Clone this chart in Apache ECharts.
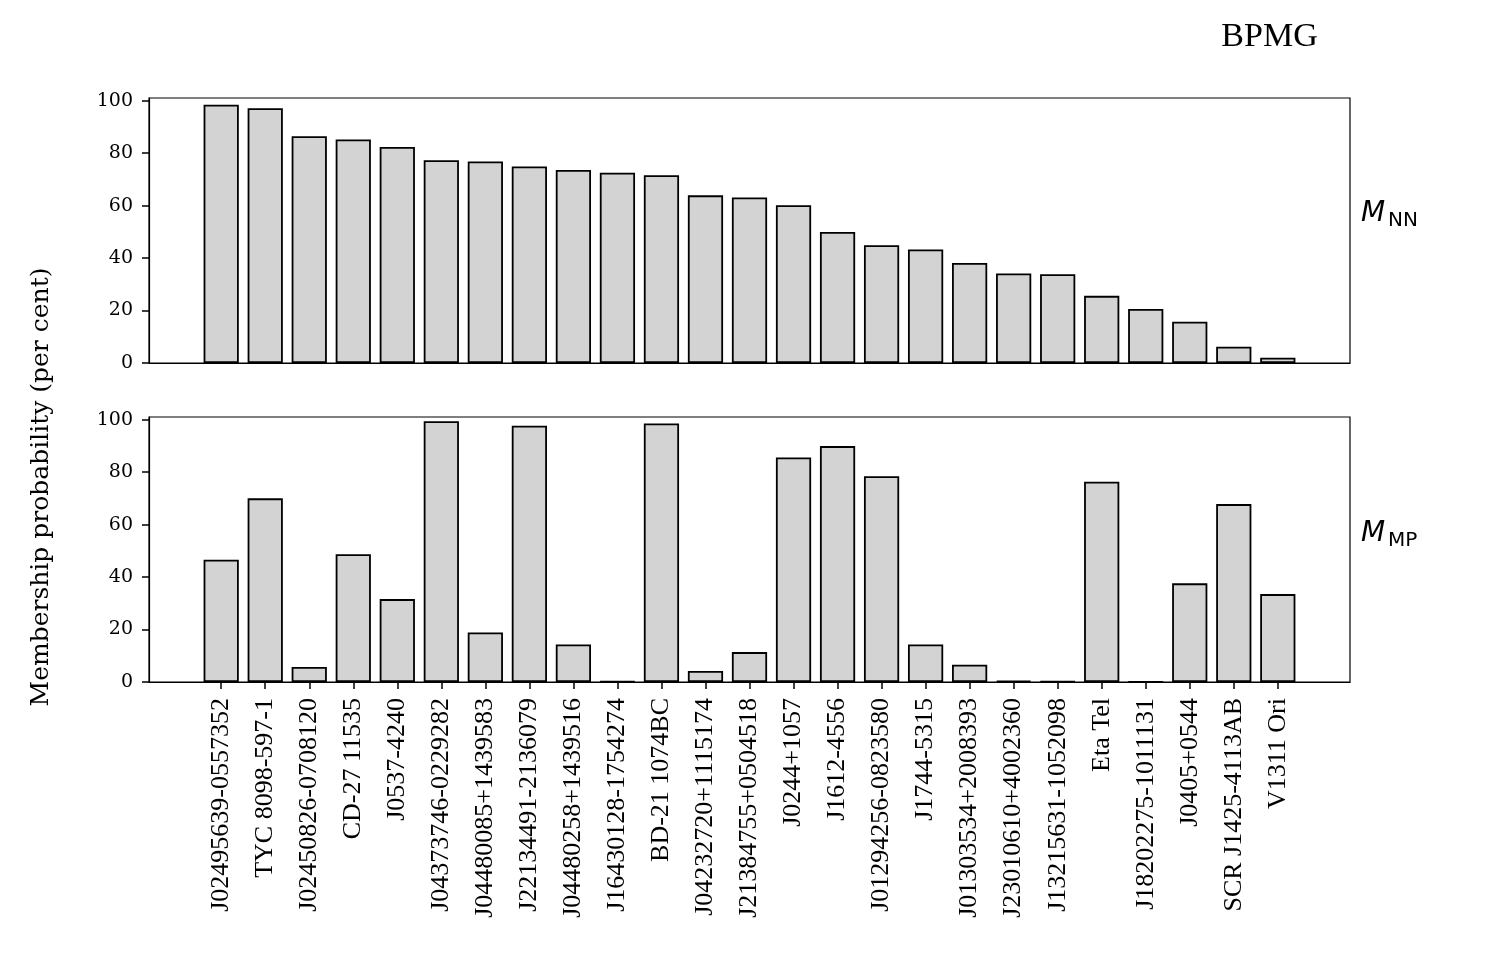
<!DOCTYPE html>
<html>
<head>
<meta charset="utf-8">
<script src="https://cdn.jsdelivr.net/npm/echarts@6/dist/echarts.min.js"></script>
<style>
  html, body { margin: 0; padding: 0; background: #fff; }
  #chart { width: 1500px; height: 975px; }
</style>
</head>
<body>
<div id="chart"></div>
<script>
// star names, in the order of the top panel
var stars = [
  "J02495639-0557352", "TYC 8098-597-1", "J02450826-0708120", "CD-27 11535",
  "J0537-4240", "J04373746-0229282", "J04480085+1439583", "J22134491-2136079",
  "J04480258+1439516", "J16430128-1754274", "BD-21 1074BC", "J04232720+1115174",
  "J21384755+0504518", "J0244+1057", "J1612-4556", "J01294256-0823580",
  "J1744-5315", "J01303534+2008393", "J23010610+4002360", "J13215631-1052098",
  "Eta Tel", "J18202275-1011131", "J0405+0544", "SCR J1425-4113AB", "V1311 Ori"
];

// membership probability (per cent), M_NN
var probNN = [
  98.4, 97.1, 86.4, 85.2, 82.3, 77.3, 76.8, 74.9, 73.6, 72.5,
  71.6, 63.9, 63.1, 60.1, 49.9, 44.9, 43.3, 38.1, 34.1, 33.8,
  25.6, 20.6, 15.7, 6.2, 2.0
];

// membership probability (per cent), M_MP
var probMP = [
  46.6, 70.0, 5.7, 48.7, 31.6, 99.4, 18.9, 97.7, 14.3, 0.2,
  98.5, 4.2, 11.4, 85.6, 89.9, 78.4, 14.3, 6.6, 0.5, 0.2,
  76.3, 0.1, 37.6, 67.8, 33.5
];

var yTicks = [0, 20, 40, 60, 80, 100];

var positions = stars.map(function (s, i) { return i; });

// plot layout
var plotLeft = 149, plotRight = 150, plotH = 265;
var xMin = -1.64, xMax = stars.length - 1 + 1.64;
var barPx = 0.8 * (1500 - plotLeft - plotRight) / (xMax - xMin);

function pairs(vals) {
  return vals.map(function (v, i) { return [i, v]; });
}

function makeX(idx, withLabels) {
  return {
    type: "value",
    gridIndex: idx,
    min: xMin,
    max: xMax,
    axisLine: { show: true, onZero: false, lineStyle: { color: "#000", width: 1.2 } },
    splitLine: { show: false },
    axisTick: {
      show: withLabels,
      inside: false,
      customValues: positions,
      length: 7,
      lineStyle: { color: "#000", width: 1.5 }
    },
    axisLabel: {
      show: withLabels,
      customValues: positions,
      rotate: 90,
      margin: 16,
      fontFamily: "Liberation Serif",
      fontSize: 26,
      color: "#000",
      formatter: function (v) { return stars[Math.round(v)]; }
    }
  };
}

function makeY(idx) {
  return {
    type: "value",
    gridIndex: idx,
    min: 0,
    max: 101,
    axisLine: { show: true, onZero: false, lineStyle: { color: "#000", width: 1.2 } },
    splitLine: { show: false },
    axisTick: {
      show: true,
      inside: false,
      customValues: yTicks,
      length: 7,
      lineStyle: { color: "#000", width: 1.5 }
    },
    axisLabel: {
      customValues: yTicks,
      margin: 16,
      fontFamily: "DejaVu Serif",
      fontSize: 19,
      color: "#000"
    }
  };
}

var barStyle = {
  color: "#d3d3d3",
  borderColor: "#000",
  borderWidth: 1.8
};

var myChart = echarts.init(document.getElementById("chart"));
myChart.setOption({
  animation: false,
  grid: [
    { left: plotLeft, right: plotRight, top: 98, height: plotH, show: true, borderColor: "#000", borderWidth: 1.2 },
    { left: plotLeft, right: plotRight, top: 417, height: plotH, show: true, borderColor: "#000", borderWidth: 1.2 }
  ],
  xAxis: [makeX(0, false), makeX(1, true)],
  yAxis: [makeY(0), makeY(1)],
  series: [
    {
      name: "M_NN",
      type: "bar",
      xAxisIndex: 0,
      yAxisIndex: 0,
      barWidth: barPx,
      itemStyle: barStyle,
      data: pairs(probNN)
    },
    {
      name: "M_MP",
      type: "bar",
      xAxisIndex: 1,
      yAxisIndex: 1,
      barWidth: barPx,
      itemStyle: barStyle,
      data: pairs(probMP)
    }
  ],
  graphic: [
    {
      type: "text",
      x: 1269.5,
      y: 37,
      style: {
        text: "BPMG",
        fontFamily: "Liberation Serif",
        fontSize: 34,
        fill: "#000",
        textAlign: "center",
        textVerticalAlign: "middle"
      }
    },
    {
      type: "text",
      x: 41,
      y: 487,
      rotation: Math.PI / 2,
      style: {
        text: "Membership probability (per cent)",
        fontFamily: "DejaVu Serif",
        fontSize: 25,
        fill: "#000",
        textAlign: "center",
        textVerticalAlign: "middle"
      }
    },
    // panel labels M_NN, M_MP
    {
      type: "text", x: 1361, y: 214,
      style: { text: "M", fontFamily: "DejaVu Sans", fontStyle: "italic", fontSize: 28, fill: "#000", textVerticalAlign: "middle" }
    },
    {
      type: "text", x: 1388, y: 221,
      style: { text: "NN", fontFamily: "DejaVu Sans", fontSize: 20, fill: "#000", textVerticalAlign: "middle" }
    },
    {
      type: "text", x: 1361, y: 534,
      style: { text: "M", fontFamily: "DejaVu Sans", fontStyle: "italic", fontSize: 28, fill: "#000", textVerticalAlign: "middle" }
    },
    {
      type: "text", x: 1388, y: 541,
      style: { text: "MP", fontFamily: "DejaVu Sans", fontSize: 20, fill: "#000", textVerticalAlign: "middle" }
    }
  ]
});
</script>
</body>
</html>
